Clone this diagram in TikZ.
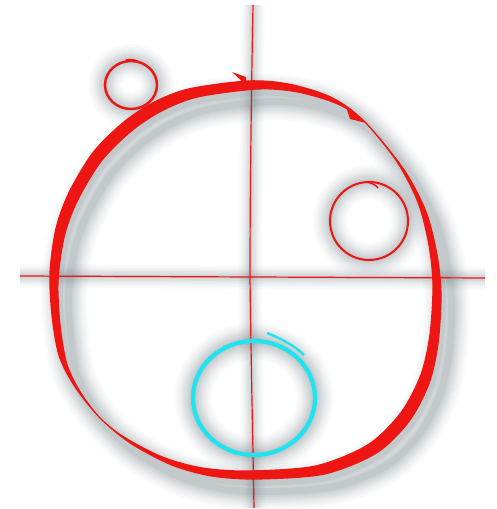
\documentclass[tikz,border=0pt]{standalone}
\definecolor{skred}{RGB}{238,22,18}
\definecolor{skcyan}{RGB}{30,228,240}
\definecolor{shgray}{RGB}{75,92,100}
\newcommand\blobplot[2]{plot[smooth cycle] coordinates {(253#1,424#2) (293#1,421#2) (333#1,409#2) (363#1,389#2) (400#1,344#2) (422#1,302#2) (433#1,259#2) (437#1,219#2) (434#1,170#2) (425#1,130#2) (405#1,92#2) (372#1,60#2) (320#1,39#2) (253#1,34#2) (207#1,37#2) (167#1,48#2) (127#1,69#2) (100#1,91#2) (78#1,119#2) (63#1,149#2) (56#1,189#2) (54#1,232#2) (60#1,276#2) (73#1,312#2) (97#1,352#2) (127#1,382#2) (157#1,402#2) (193#1,416#2)}}
\newcommand\softshadow[2][]{\foreach \w/\o in {34/0.03,29/0.035,24/0.04,20/0.045,16/0.05,12/0.055,8/0.065,4/0.075}{\draw[shgray, line width=\w pt, opacity=\o, shift={(10,-12)}, #1] #2;}}
\begin{document}
\begin{tikzpicture}[x=1pt,y=1pt,
  thinred/.style={draw=skred, line width=1.2pt},
  ringred/.style={draw=skred, line width=2.4pt}]
\useasboundingbox (0,0) rectangle (497,509);
% named points
\coordinate (vtop) at (253,504);
\coordinate (vmid) at (250,232);
\coordinate (vbot) at (254,1);
\coordinate (hl) at (20,233);
\coordinate (hr) at (485,231);
\coordinate (c1) at (131,424);
\coordinate (c2) at (369,288);
\coordinate (c3) at (254,111);
% shadows
\softshadow[line width=0.7*\w pt, opacity=0.8*\o]{(vtop) -- (vmid) -- (vbot)}
\softshadow[line width=0.7*\w pt, opacity=0.8*\o]{(hl) -- (hr)}
\softshadow[line width=\w pt+3pt]{\blobplot{-4.6}{+4.6} \blobplot{+4.6}{-4.6}}
\softshadow{(c1) ellipse [x radius=26, y radius=24]}
\softshadow{(c2) circle [radius=39]}
\softshadow[line width=\w pt+3pt]{(c3) ellipse [x radius=61, y radius=57]}
% axes
\draw[thinred] (vtop) .. controls (251,400) and (250,300) .. (vmid) .. controls (251,150) and (253,60) .. (vbot);
\draw[thinred] (hl) -- (hr);
% big blob
\draw[thinred] \blobplot{+0}{+0};
\fill[skred, even odd rule] \blobplot{-4.6}{+4.6} \blobplot{+4.6}{-4.6};
\fill[skred] (232,437) -- (246,432) -- (246,424) -- cycle;
\fill[skred] (346,402) -- (366,386) -- (350,390) -- cycle;
% small circles
\draw[ringred] (c1) ellipse [x radius=26, y radius=24];
\draw[skred, line width=1.6pt] (126,449) .. controls (132,450) and (137,449) .. (140,446);
\draw[skred, line width=2pt] (c2) circle [radius=39];
\draw[skred, line width=1.4pt] (366,327) .. controls (372,326) and (376,324) .. (378,321);
% cyan circle
\draw[skcyan, line width=4.2pt] (c3) ellipse [x radius=61, y radius=57];
\draw[skcyan, line width=2.4pt] (267,176) .. controls (282,170) and (295,163) .. (304,154);
\end{tikzpicture}
\end{document}
